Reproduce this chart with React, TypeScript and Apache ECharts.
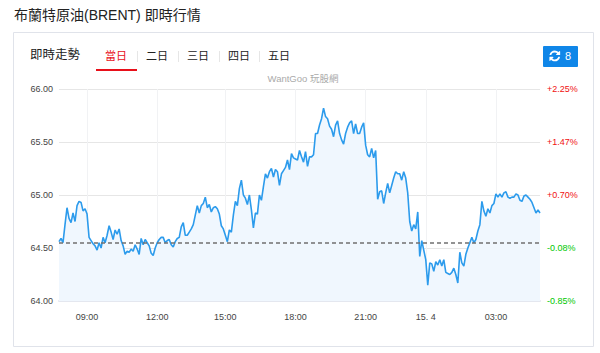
import React, { useEffect, useRef } from "react";
import * as echarts from "echarts";

const titleText = "布蘭特原油(BRENT) 即時行情";
const panelTitle = "即時走勢";
const tabs = ["當日", "二日", "三日", "四日", "五日"];
const watermark = "WantGoo 玩股網";
const refreshCount = "8";
const previousClose = 64.55;
const priceTicks = [64, 64.5, 65, 65.5, 66];
const percentTicks = ["-0.85%", "-0.08%", "+0.70%", "+1.47%", "+2.25%"];
const timeTickIndex = [14, 49, 83, 118, 153, 183, 218];
const timeTickLabels = ["09:00", "12:00", "15:00", "18:00", "21:00", "15. 4", "03:00"];

const prices = [
  64.56, 64.59, 64.55, 64.72, 64.88, 64.78, 64.74, 64.83, 64.75, 64.90, 64.94, 64.93, 64.85, 64.87, 64.82,
  64.60, 64.57, 64.54, 64.52, 64.48, 64.55, 64.50, 64.60, 64.55, 64.62, 64.71, 64.65, 64.58, 64.67, 64.63,
  64.68, 64.57, 64.52, 64.44, 64.47, 64.46, 64.49, 64.47, 64.53, 64.49, 64.44,
  64.59, 64.53, 64.58, 64.55, 64.52, 64.45, 64.43, 64.50, 64.55, 64.58, 64.60, 64.60, 64.55, 64.57, 64.58,
  64.53, 64.51, 64.56, 64.59, 64.60, 64.70, 64.74, 64.62, 64.62, 64.65, 64.68, 64.72, 64.81, 64.90, 64.83,
  64.90, 64.92, 64.98, 64.88, 64.91, 64.84, 64.88, 64.89, 64.87, 64.82, 64.71, 64.68,
  64.62, 64.56, 64.67, 64.65, 64.81, 64.94, 64.90, 65.06, 65.14, 65.00, 64.97, 64.91, 65.00, 64.86, 64.69,
  64.83, 64.82, 65.00, 64.95, 65.08, 65.20, 65.16, 65.22, 65.25, 65.17, 65.24, 65.22, 65.09, 65.20, 65.23,
  65.26, 65.33, 65.24, 65.39, 65.35, 65.34, 65.33, 65.42, 65.36,
  65.31, 65.41, 65.27, 65.36, 65.36, 65.38, 65.58, 65.58, 65.66, 65.72, 65.82, 65.74, 65.72, 65.65, 65.62,
  65.55, 65.66, 65.70, 65.58, 65.52, 65.48, 65.58, 65.64, 65.68, 65.70, 65.58, 65.67, 65.58, 65.58, 65.64,
  65.68, 65.47, 65.38, 65.36, 65.44, 65.35, 65.42, 64.96, 65.03, 65.04, 64.92,
  65.02, 65.11, 65.02, 65.09, 65.16, 65.22, 65.20, 65.20, 65.14, 65.22, 65.16, 65.02, 64.75, 64.66, 64.72,
  64.68, 64.84, 64.42, 64.57, 64.48, 64.39, 64.15, 64.36, 64.35, 64.28, 64.37, 64.34, 64.39, 64.33, 64.39,
  64.27, 64.26, 64.25, 64.27, 64.31, 64.25, 64.17,
  64.46, 64.36, 64.33, 64.44, 64.50, 64.55, 64.60, 64.55, 64.58, 64.66, 64.72, 64.94, 64.85, 64.80, 64.87,
  64.83, 64.90, 64.92, 65.01, 64.98, 65.01, 64.98, 65.02, 65.03, 64.98, 64.97, 64.98, 64.98, 65.01, 65.00,
  64.95, 64.94, 64.99, 65.00, 64.98, 64.96, 64.93, 64.88, 64.83, 64.86, 64.83,
];

const categories = prices.map((_, i) => {
  const k = timeTickIndex.indexOf(i);
  return k >= 0 ? timeTickLabels[k] : String(i);
});
const isTimeTick = (i: number) => timeTickIndex.includes(i);

const refreshPath =
  "M1639 1056q0 5-1 7-64 268-268 434.5t-478 166.5q-146 0-282.500-55t-243.500-157l-129 129q-19 19-45 19t-45-19-19-45v-448q0-26 19-45t45-19h448q26 0 45 19t19 45-19 45l-137 137q71 66 161 102t187 36q134 0 250-65t186-179q11-17 53-117 8-23 30-23h192q13 0 22.500 9.500t9.500 22.500zm25-800v448q0 26-19 45t-45 19h-448q-26 0-45-19t-19-45 19-45l138-138q-148-137-349-137-134 0-250 65t-186 179q-11 17-53 117-8 23-30 23h-199q-13 0-22.500-9.500t-9.500-22.500v-7q65-268 270-434.500t480-166.500q146 0 284 55.500t245 156.500l130-129q19-19 45-19t45 19 19 45z";
echarts.graphic.registerShape("refreshIcon", echarts.graphic.extendPath(refreshPath, {}) as any);

const FONT = '"Liberation Sans", "Noto Sans CJK TC", sans-serif';
const tabX = [116, 157, 198, 239, 279];
const sepX = [137.5, 178.5, 219.5, 259.5];

export default function App() {
  const ref = useRef<HTMLDivElement>(null);
  useEffect(() => {
    const chart = echarts.init(ref.current!, undefined, { renderer: "svg" });
    const pctOf = (v: number) => {
      const k = priceTicks.indexOf(v);
      return k >= 0 ? percentTicks[k] : "";
    };
    chart.setOption({
      animation: false,
      backgroundColor: "#fff",
      textStyle: { fontFamily: FONT },
      grid: { left: 59, right: 60, top: 89, bottom: 52, containLabel: false },
      xAxis: {
        type: "category",
        data: categories,
        boundaryGap: false,
        axisLine: { show: true, lineStyle: { color: "#e4e7ef", width: 2 } },
        axisTick: { show: false },
        axisLabel: {
          interval: (i: number) => isTimeTick(i),
          color: "#444",
          fontSize: 9,
          margin: 11,
          fontFamily: FONT,
        },
        splitLine: { show: true, interval: (i: number) => isTimeTick(i), lineStyle: { color: "#f1f2f4", width: 1 } },
      },
      yAxis: [
        {
          type: "value",
          min: 64,
          max: 66,
          interval: 0.5,
          position: "left",
          axisLine: { show: false },
          axisTick: { show: false },
          axisLabel: {
            color: "#444",
            fontSize: 9,
            margin: 6,
            fontFamily: FONT,
            formatter: (v: number) => v.toFixed(2),
          },
          splitLine: { show: true, lineStyle: { color: "#e6e6e6", width: 1 } },
        },
        {
          type: "value",
          min: 64,
          max: 66,
          interval: 0.5,
          position: "right",
          axisLine: { show: false },
          axisTick: { show: false },
          splitLine: { show: false },
          axisLabel: {
            fontSize: 9,
            margin: 7,
            fontFamily: FONT,
            formatter: pctOf,
            color: (v: any) => (pctOf(Number(v)).startsWith("+") ? "#f01010" : "#00c800"),
          },
        },
      ],
      series: [
        {
          type: "line",
          data: prices,
          symbol: "none",
          smooth: false,
          lineStyle: { color: "#2c9bec", width: 1.6 },
          areaStyle: { color: "#f0f7fe", opacity: 1, origin: "start" },
          markLine: {
            silent: true,
            symbol: "none",
            label: { show: false },
            lineStyle: { color: "#707070", type: [4, 3], width: 1.6 },
            data: [{ yAxis: previousClose }],
          },
        },
      ],
      graphic: [
        { type: "text", x: 14, y: 8, style: { text: titleText, fontSize: 14, fill: "#222", fontFamily: FONT } },
        {
          type: "rect",
          shape: { x: 13.5, y: 32.5, width: 580, height: 314 },
          style: { fill: "none", stroke: "#e0e3ea", lineWidth: 1 },
          silent: true,
        },
        { type: "text", x: 30, y: 49, style: { text: panelTitle, fontSize: 12.5, fill: "#222", fontFamily: FONT } },
        ...tabs.map((t, i) => ({
          type: "text",
          x: tabX[i],
          y: 50.5,
          style: {
            text: t,
            fontSize: 11,
            fill: i === 0 ? "#e8101a" : "#222",
            align: "center",
            fontFamily: FONT,
          },
        })),
        ...sepX.map((x) => ({
          type: "line",
          shape: { x1: x, y1: 51, x2: x, y2: 62 },
          style: { stroke: "#e6e6e6", lineWidth: 1 },
        })),
        {
          type: "rect",
          shape: { x: 96, y: 69, width: 41, height: 2 },
          style: { fill: "#e8101a" },
        },
        {
          type: "text",
          x: 303,
          y: 74,
          style: { text: watermark, fontSize: 9.5, fill: "#aaa", align: "center", fontFamily: FONT },
        },
        {
          type: "rect",
          shape: { x: 543, y: 46, width: 35, height: 21, r: 1 },
          style: { fill: "#0f86e8" },
        },
        {
          type: "refreshIcon",
          x: 548.5,
          y: 49.7,
          scaleX: 0.0065,
          scaleY: 0.0065,
          style: { fill: "#fff" },
        },
        {
          type: "text",
          x: 568,
          y: 50.5,
          style: { text: refreshCount, fontSize: 11, fill: "#fff", align: "center", fontFamily: FONT },
        },
      ],
    });
    return () => chart.dispose();
  }, []);
  return (
    <div
      ref={ref}
      style={{ position: "absolute", left: 0, top: 0, width: 600, height: 353, background: "#fff" }}
    />
  );
}
